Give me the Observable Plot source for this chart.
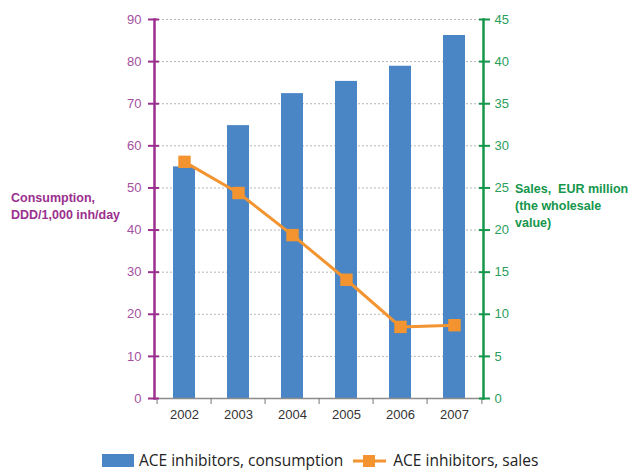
<!DOCTYPE html>
<html>
<head>
<meta charset="utf-8">
<script src="https://cdn.jsdelivr.net/npm/d3@7"></script>
<script src="https://cdn.jsdelivr.net/npm/@observablehq/plot@0.6"></script>
<style>
  html, body { margin: 0; padding: 0; background: #fff; }
  #wrap { position: relative; width: 637px; height: 470px; font-family: "Liberation Sans", Arial, sans-serif; overflow: hidden; }
  #chart { position: absolute; left: 0; top: 0; }
  .ytitle { position: absolute; font-weight: bold; font-size: 12.5px; line-height: 17px; white-space: pre; }
  #legend { position: absolute; left: 102px; top: 452px; height: 17px; display: flex; align-items: center; font-family: "Open Sans", "Liberation Sans", sans-serif; font-size: 15.5px; line-height: 17px; color: #222; white-space: nowrap; }
  .sw { display: inline-block; }
</style>
</head>
<body>
<div id="wrap">
  <div id="chart"></div>
  <div class="ytitle" style="left:11px; top:190px; color:#9b2f8f;">Consumption,
DDD/1,000 inh/day</div>
  <div class="ytitle" style="left:515px; top:181px; color:#14964b;">Sales,  EUR million
(the wholesale
value)</div>
  <div id="legend">
    <span class="sw" style="width:32px;height:13px;background:#4a86c5;margin-right:5px;"></span>
    <span>ACE inhibitors, consumption</span>
    <svg width="36" height="14" style="margin:0 4px 0 10px;"><line x1="0" y1="7" x2="33" y2="7" stroke="#f39430" stroke-width="3"/><rect x="10" y="1" width="12" height="12" fill="#f39430"/></svg>
    <span>ACE inhibitors, sales</span>
  </div>
</div>
<script>
const years = ["2002", "2003", "2004", "2005", "2006", "2007"];
const consumption = [55.0, 64.8, 72.4, 75.3, 78.9, 86.2];
const sales = [28.1, 24.4, 19.4, 14.1, 8.5, 8.7];
const leftTicks = [0, 10, 20, 30, 40, 50, 60, 70, 80, 90];
const rightTicks = [0, 5, 10, 15, 20, 25, 30, 35, 40, 45];

const purple = "#9b2f8f";
const purpleText = "#a5509f";
const green = "#14964b";
const greenText = "#2a9e5a";
const blue = "#4a86c5";
const orange = "#f39430";

const W = 637, H = 430, ML = 154, MR = 154, MT = 19, MB = 32;
const step = (W - ML - MR) / years.length;

const rows = years.map((y, i) => ({year: y, consumption: consumption[i], sales: sales[i]}));
const ratio = 90 / 45;

const chart = Plot.plot({
  width: W, height: H,
  marginLeft: ML, marginRight: MR, marginTop: MT, marginBottom: MB,
  style: {fontFamily: "Liberation Sans, Arial, sans-serif", fontSize: "13px", background: "#fff"},
  x: {domain: years, paddingInner: 0.6, paddingOuter: 0.3, label: null},
  y: {domain: [0, 90], label: null},
  marks: [
    Plot.gridY(leftTicks.filter(d => d > 0), {stroke: "#b5b5b5", strokeOpacity: 1, strokeDasharray: "2,2"}),
    Plot.barY(rows, {x: "year", y: "consumption", fill: blue}),
    Plot.ruleY([0], {stroke: "#8c8c8c", strokeWidth: 1.5}),
    Plot.ruleX(years, {x: d => d, y1: 0, y2: 0, dx: -step / 2, stroke: "#777", insetBottom: -6}),
    Plot.ruleX([years[years.length - 1]], {x: d => d, dx: step / 2, stroke: "#777", y1: 0, y2: 0, insetBottom: -6}),
    Plot.axisX({tickSize: 0, tickPadding: 11, fill: "#333", fontSize: 13}),
    // left axis
    Plot.frame({anchor: "left", stroke: purple, strokeWidth: 2.5}),
    Plot.axisY({anchor: "left", ticks: leftTicks, tickSize: 6, tickPadding: 7, stroke: purple, strokeWidth: 2, fill: purpleText, fontSize: 13}),
    Plot.axisY({anchor: "left", ticks: leftTicks, tickSize: -5, text: null, stroke: purple, strokeWidth: 2}),
    // right axis
    Plot.frame({anchor: "right", stroke: green, strokeWidth: 2.5}),
    Plot.axisY({anchor: "right", ticks: rightTicks.map(d => d * ratio), tickFormat: d => String(d / ratio), tickSize: 6, tickPadding: 5, stroke: green, strokeWidth: 2, fill: greenText, fontSize: 13}),
    Plot.axisY({anchor: "right", ticks: rightTicks.map(d => d * ratio), tickSize: -5, text: null, stroke: green, strokeWidth: 2}),
    // sales line
    Plot.lineY(rows, {x: "year", y: d => d.sales * ratio, stroke: orange, strokeWidth: 3}),
    Plot.dot(rows, {x: "year", y: d => d.sales * ratio, symbol: "square", r: 7, fill: orange, stroke: null})
  ]
});
document.getElementById("chart").appendChild(chart);
</script>
</body>
</html>
